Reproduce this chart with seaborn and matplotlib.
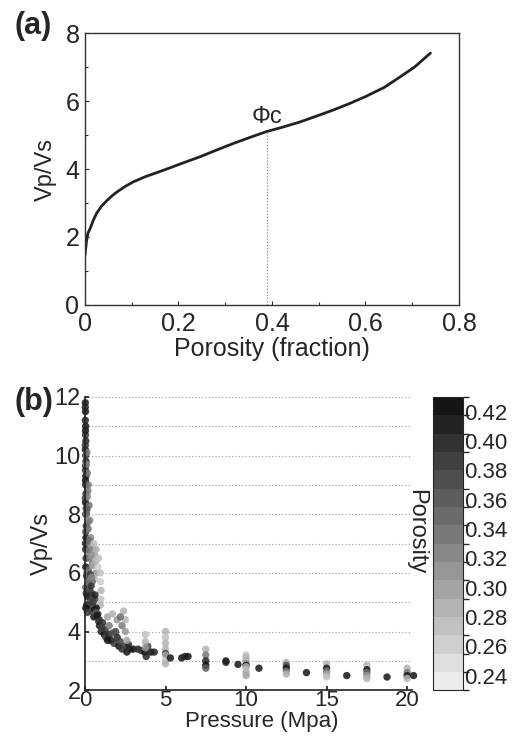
import numpy as np
import pandas as pd
import matplotlib
matplotlib.use('Agg')
import matplotlib.pyplot as plt
from matplotlib.colors import ListedColormap, BoundaryNorm
from matplotlib.ticker import MultipleLocator, FuncFormatter
import seaborn as sns

# panel (a): Vp/Vs vs porosity curve
porosity_a = [0.0, 0.003, 0.006, 0.011, 0.018, 0.025, 0.035, 0.046, 0.057, 0.068,
              0.085, 0.103, 0.13, 0.155, 0.175, 0.21, 0.246, 0.28, 0.317, 0.355,
              0.388, 0.42, 0.459, 0.5, 0.53, 0.565, 0.6, 0.64, 0.673, 0.705, 0.739]
vpvs_a = [1.47, 1.85, 2.1, 2.25, 2.5, 2.7, 2.9, 3.06, 3.2, 3.32,
          3.48, 3.62, 3.78, 3.9, 4.0, 4.18, 4.36, 4.55, 4.75, 4.94,
          5.1, 5.22, 5.38, 5.58, 5.73, 5.92, 6.13, 6.4, 6.7, 7.0, 7.41]
phi_c = 0.39
phi_c_vpvs = 5.1

# panel (b): Vp/Vs vs pressure, colored by porosity
pressure_b = [
    # column at zero pressure
    0.02, 0.03, 0.02, 0.04, 0.03, 0.05, 0.02, 0.04, 0.06, 0.03, 0.05, 0.04,
    0.06, 0.03, 0.07, 0.05, 0.08, 0.06, 0.04, 0.07, 0.05,
    0.02, 0.03, 0.02, 0.04, 0.03, 0.02, 0.05, 0.03,
    # gray points 6-9.5
    0.15, 0.2, 0.15, 0.25, 0.1, 0.3, 0.2, 0.35, 0.25, 0.4, 0.5, 0.3, 0.6, 0.45,
    0.2, 0.7, 0.12, 0.1, 0.18, 0.12, 0.22, 0.28, 0.38, 0.15, 0.5,
    # light points
    0.55, 0.7, 0.8, 0.4, 0.6, 0.95, 0.97, 1.0, 0.98, 0.95, 0.65, 0.85,
    # dark cluster 4.4-6
    0.1, 0.2, 0.3, 0.15, 0.4, 0.5, 0.25, 0.6, 0.7, 0.35, 0.1, 0.8, 0.55, 0.9,
    0.05, 0.45, 0.3, 0.08, 0.18, 0.28, 0.38, 0.48, 0.58, 0.68, 0.12, 0.22,
    0.33, 0.42, 0.62, 0.75, 0.85, 0.05, 0.15,
    # descending dark
    0.9, 1.0, 1.1, 1.2, 1.3, 1.5, 1.6, 1.8, 1.9, 2.0, 2.1, 2.3, 2.5, 2.6, 2.8,
    3.0, 3.3, 3.5, 3.7, 3.8, 3.9, 4.1, 4.3, 1.05, 1.25, 1.4, 1.7, 2.2, 2.7,
    # medium points
    1.4, 1.7, 2.0, 2.3, 2.4, 2.5, 2.5, 2.6, 2.2, 1.5,
    3.75, 3.75, 3.75,
    # 5 MPa
    5.0, 5.0, 5.0, 5.0, 5.0, 5.0, 5.0, 5.0, 5.3,
    6.0, 6.2, 6.4,
    7.5, 7.5, 7.5, 7.5, 7.5,
    8.75, 8.75, 9.5,
    10.0, 10.0, 10.0, 10.0, 10.0, 10.0, 10.0, 10.0, 10.0,
    10.8,
    12.5, 12.5, 12.5, 12.5, 12.5,
    13.75,
    15.0, 15.0, 15.0, 15.0, 15.0,
    16.25,
    17.5, 17.5, 17.5, 17.5, 17.5,
    18.75,
    20.0, 20.0, 20.0, 20.0,
    20.4,
]
vpvs_b = [
    11.8, 11.5, 11.2, 11.0, 10.7, 10.5, 10.2, 10.0, 9.8, 9.5, 9.3, 9.0,
    8.7, 8.4, 8.2, 8.0, 7.6, 7.2, 6.8, 6.5, 6.2,
    11.65, 10.85, 10.35, 9.65, 9.15, 8.55, 7.4, 7.0,
    9.4, 9.0, 8.6, 8.3, 8.0, 7.8, 7.5, 7.2, 7.0, 6.9, 6.8, 6.5, 6.6, 6.3,
    6.1, 6.0, 10.1, 9.7, 8.8, 8.15, 7.75, 7.1, 6.6, 6.75, 6.25,
    7.0, 6.8, 6.2, 5.9, 5.8, 6.0, 5.7, 5.4, 5.1, 4.9, 6.4, 6.5,
    5.9, 5.6, 5.4, 5.2, 5.3, 5.0, 4.9, 5.1, 4.8, 4.7, 4.9, 4.6, 4.5, 4.4,
    5.5, 5.7, 5.0, 5.3, 5.45, 5.65, 5.55, 5.15, 4.75, 4.65, 6.0, 5.8,
    5.95, 5.85, 5.25, 4.55, 4.35, 4.8, 4.65,
    4.2, 4.0, 4.3, 3.9, 3.8, 3.9, 3.7, 3.6, 4.0, 3.8, 3.5, 3.4, 3.5, 3.3, 3.4,
    3.4, 3.4, 3.35, 3.3, 3.15, 3.5, 3.3, 3.3, 4.15, 4.05, 3.7, 3.95, 3.65, 3.55,
    4.5, 4.6, 4.4, 4.2, 4.7, 4.4, 4.0, 3.7, 4.5, 4.2,
    3.9, 3.65, 3.45,
    4.0, 3.8, 3.6, 3.4, 3.25, 3.2, 3.0, 2.9, 3.1,
    3.1, 3.15, 3.15,
    3.4, 3.2, 3.0, 2.85, 2.75,
    3.0, 2.95, 2.88,
    3.2, 3.1, 3.0, 2.9, 2.85, 2.8, 2.7, 2.6, 2.5,
    2.75,
    2.95, 2.85, 2.75, 2.65, 2.55,
    2.6,
    2.9, 2.75, 2.65, 2.55, 2.45,
    2.5,
    2.85, 2.7, 2.6, 2.5, 2.4,
    2.45,
    2.75, 2.6, 2.5, 2.4,
    2.5,
]
porosity_b = [
    0.42, 0.42, 0.41, 0.42, 0.40, 0.41, 0.42, 0.39, 0.41, 0.40, 0.42, 0.41,
    0.40, 0.42, 0.39, 0.41, 0.40, 0.42, 0.41, 0.40, 0.42,
    0.41, 0.42, 0.40, 0.41, 0.42, 0.39, 0.38, 0.41,
    0.33, 0.34, 0.32, 0.35, 0.33, 0.31, 0.34, 0.32, 0.33, 0.31, 0.32, 0.34, 0.30, 0.33,
    0.35, 0.31, 0.34, 0.32, 0.33, 0.36, 0.34, 0.35, 0.31, 0.33, 0.30,
    0.27, 0.28, 0.26, 0.28, 0.27, 0.27, 0.26, 0.28, 0.27, 0.29, 0.28, 0.27,
    0.40, 0.41, 0.38, 0.42, 0.39, 0.41, 0.40, 0.37, 0.42, 0.39, 0.41, 0.40, 0.42, 0.39,
    0.36, 0.35, 0.38, 0.41, 0.37, 0.34, 0.40, 0.38, 0.42, 0.36, 0.33, 0.35,
    0.39, 0.32, 0.41, 0.42, 0.40, 0.42, 0.39,
    0.42, 0.41, 0.40, 0.42, 0.39, 0.41, 0.42, 0.40, 0.38, 0.41, 0.42, 0.40, 0.39, 0.42, 0.41,
    0.42, 0.41, 0.40, 0.42, 0.41, 0.39, 0.42, 0.41, 0.38, 0.40, 0.42, 0.37, 0.39, 0.41,
    0.30, 0.29, 0.31, 0.33, 0.28, 0.29, 0.31, 0.30, 0.35, 0.33,
    0.27, 0.28, 0.31,
    0.28, 0.27, 0.29, 0.28, 0.40, 0.30, 0.27, 0.29, 0.42,
    0.42, 0.41, 0.42,
    0.29, 0.34, 0.41, 0.42, 0.36,
    0.42, 0.41, 0.42,
    0.27, 0.28, 0.29, 0.31, 0.42, 0.29, 0.27, 0.28, 0.30,
    0.42,
    0.29, 0.37, 0.42, 0.33, 0.28,
    0.42,
    0.28, 0.42, 0.33, 0.30, 0.27,
    0.42,
    0.28, 0.42, 0.35, 0.31, 0.28,
    0.42,
    0.28, 0.33, 0.42, 0.29,
    0.42,
]

sns.set_theme(style='ticks')
plt.rcParams['font.family'] = ['Liberation Sans', 'DejaVu Sans']

fig = plt.figure(figsize=(5.16, 7.39), dpi=100)
ax_a = fig.add_axes([0.1647, 0.5873, 0.7248, 0.368])
ax_b = fig.add_axes([0.1647, 0.066, 0.6337, 0.397])
cax = fig.add_axes([0.839, 0.066, 0.058, 0.397])

# ---- (a)
df_a = pd.DataFrame({'phi': porosity_a, 'vpvs': vpvs_a})
sns.lineplot(data=df_a, x='phi', y='vpvs', ax=ax_a, color='#222222', lw=2.0)
ax_a.plot([phi_c, phi_c], [0, phi_c_vpvs], ls=(0, (1, 1.5)), color='#888888', lw=0.9)
ax_a.text(phi_c, phi_c_vpvs + 0.12, 'Φc', ha='center', va='bottom', fontsize=17)
ax_a.set_xlim(0, 0.8)
ax_a.set_ylim(0, 8)
ax_a.xaxis.set_major_locator(MultipleLocator(0.2))
ax_a.xaxis.set_minor_locator(MultipleLocator(0.1))
ax_a.yaxis.set_major_locator(MultipleLocator(2))
ax_a.yaxis.set_minor_locator(MultipleLocator(1))
ax_a.xaxis.set_major_formatter(FuncFormatter(lambda v, _: '0' if abs(v) < 1e-9 else f'{v:.1f}'))
ax_a.tick_params(which='both', direction='in', length=3, width=0.8, labelsize=18)
ax_a.tick_params(which='minor', length=2)
ax_a.tick_params(axis='x', pad=5)
ax_a.tick_params(axis='y', pad=4)
ax_a.set_xlabel('Porosity (fraction)', fontsize=18, labelpad=1)
ax_a.set_ylabel('Vp/Vs', fontsize=17, labelpad=6)
for s in ax_a.spines.values():
    s.set_linewidth(1.0)
    s.set_color('#333333')
fig.text(0.028, 0.965, '(a)', fontsize=22, fontweight='bold', va='center')

# ---- (b)
n_bands = 16
levels = np.linspace(0.23, 0.43, n_bands + 1)
cmap = ListedColormap(sns.blend_palette(['#ececec', '#151515'], n_colors=n_bands))
norm = BoundaryNorm(levels, cmap.N)

df_b = pd.DataFrame({'p': pressure_b, 'vpvs': vpvs_b, 'phi': porosity_b})
ax_b.set_ylim(2, 12)
ax_b.set_xlim(0, 20.3)
ax_b.yaxis.set_major_locator(MultipleLocator(2))
ax_b.xaxis.set_major_locator(MultipleLocator(5))
for yv in range(3, 13):
    ax_b.axhline(yv, color='#999999', lw=0.8, ls=(0, (1, 2)), zorder=0)
sns.scatterplot(data=df_b, x='p', y='vpvs', c=df_b['phi'], cmap=cmap, norm=norm,
                s=28, edgecolor='none', alpha=0.85, ax=ax_b, legend=False, clip_on=False)
sns.despine(ax=ax_b)
ax_b.spines['left'].set_linewidth(1.2)
ax_b.spines['bottom'].set_linewidth(1.2)
ax_b.spines['left'].set_color('#222222')
ax_b.spines['bottom'].set_color('#222222')
ax_b.tick_params(which='both', direction='in', length=3, labelsize=17)
ax_b.tick_params(axis='x', labelsize=16, pad=0)
ax_b.tick_params(axis='y', pad=3)
ax_b.set_xlabel('Pressure (Mpa)', fontsize=16)
ax_b.xaxis.set_label_coords(0.54, -0.072)
ax_b.set_ylabel('Vp/Vs', fontsize=17, labelpad=1)
fig.text(0.028, 0.456, '(b)', fontsize=22, fontweight='bold', va='center')

sm = plt.cm.ScalarMappable(cmap=cmap, norm=norm)
cb = fig.colorbar(sm, cax=cax, ticks=np.arange(0.24, 0.43, 0.02), boundaries=levels)
cb.ax.set_yticklabels(['%.2f' % t for t in np.arange(0.24, 0.43, 0.02)])
cb.ax.tick_params(labelsize=16, direction='in', length=3, pad=1)
cb.outline.set_linewidth(0.8)
cax.text(-0.55, 0.54, 'Porosity', rotation=-90, ha='center', va='center',
         fontsize=17, transform=cax.transAxes)

fig.savefig('out.png', dpi=100)
